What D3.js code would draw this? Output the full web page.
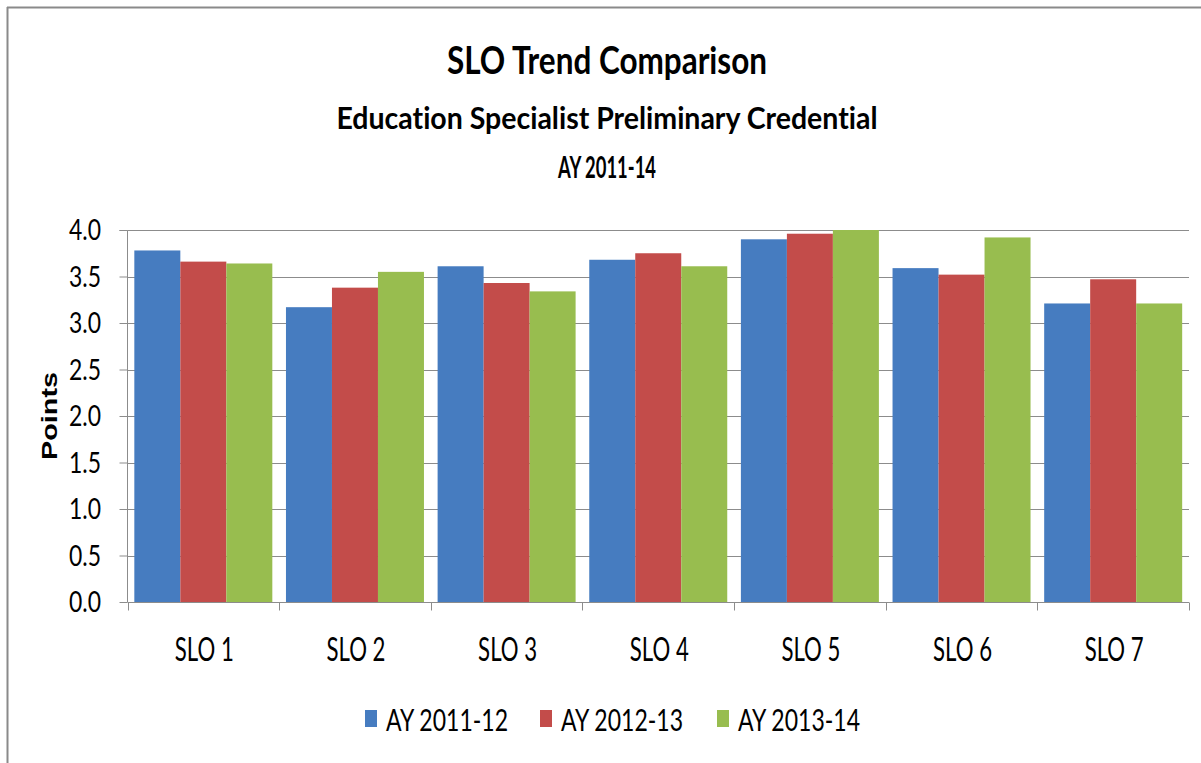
<!DOCTYPE html>
<html>
<head>
<meta charset="utf-8">
<script src="https://cdn.jsdelivr.net/npm/d3@7"></script>
<style>
  html, body { margin: 0; padding: 0; background: #ffffff; }
  svg { display: block; }
  text { font-variant-ligatures: none; font-feature-settings: "liga" 0; }
</style>
</head>
<body>
<svg id="chart" width="1201" height="763"></svg>
<script>
// ---- data ----
const categories = ["SLO 1", "SLO 2", "SLO 3", "SLO 4", "SLO 5", "SLO 6", "SLO 7"];
const seriesNames = ["AY 2011-12", "AY 2012-13", "AY 2013-14"];
const ay201112 = [3.78, 3.17, 3.61, 3.68, 3.90, 3.59, 3.21];
const ay201213 = [3.66, 3.38, 3.43, 3.75, 3.96, 3.52, 3.47];
const ay201314 = [3.64, 3.55, 3.34, 3.61, 4.00, 3.92, 3.21];
const yTicks = [0, 0.5, 1.0, 1.5, 2.0, 2.5, 3.0, 3.5, 4.0];
const seriesColors = ["#467cc0", "#c34c4a", "#98bd4f"];

const seriesValues = [ay201112, ay201213, ay201314];
const rows = categories.map((c, i) => ({
  cat: c,
  vals: seriesNames.map((s, j) => ({ s, v: seriesValues[j][i] }))
}));

// ---- layout ----
const svg = d3.select("#chart");
const W = 1201, H = 763;
const plot = { left: 127.5, right: 1189, top: 230, bottom: 602 };
const font = "Lato, 'Open Sans', 'Liberation Sans', sans-serif";

svg.append("rect").attr("width", W).attr("height", H).attr("fill", "#ffffff");

// outer chart border (top & left visible)
svg.append("line").attr("x1", 7).attr("x2", W).attr("y1", 7.5).attr("y2", 7.5)
  .attr("stroke", "#8a8a8a").attr("stroke-width", 2);
svg.append("line").attr("x1", 7.5).attr("x2", 7.5).attr("y1", 7).attr("y2", H)
  .attr("stroke", "#8a8a8a").attr("stroke-width", 2);

const x0 = d3.scaleBand().domain(categories)
  .range([plot.left, plot.right]).paddingInner(0.09).paddingOuter(0.045);
const x1 = d3.scaleBand().domain(seriesNames).range([0, x0.bandwidth()]).padding(0);
const y = d3.scaleLinear().domain([0, 4]).range([plot.bottom, plot.top]);
const color = d3.scaleOrdinal().domain(seriesNames).range(seriesColors);

// gridlines
svg.append("g").selectAll("line").data(yTicks.filter(t => t > 0)).join("line")
  .attr("x1", plot.left).attr("x2", plot.right)
  .attr("y1", d => Math.round(y(d)) + 0.5).attr("y2", d => Math.round(y(d)) + 0.5)
  .attr("stroke", "#8c8c8c").attr("stroke-width", 1);

// bars
const groups = svg.append("g").selectAll("g").data(rows).join("g")
  .attr("transform", d => `translate(${x0(d.cat)},0)`);
groups.selectAll("rect").data(d => d.vals).join("rect")
  .attr("x", d => x1(d.s))
  .attr("width", x1.bandwidth())
  .attr("y", d => y(d.v))
  .attr("height", d => y(0) - y(d.v))
  .attr("fill", d => color(d.s));

// y axis
const yAxis = d3.axisLeft(y).tickValues(yTicks).tickFormat(d3.format(".1f"))
  .tickSize(8).tickPadding(0);
const gy = svg.append("g").attr("transform", `translate(${plot.left},0)`).call(yAxis);
gy.select(".domain").attr("stroke", "#8c8c8c").attr("d", `M-8,${plot.top + 0.5}H0V${plot.bottom}`);
gy.selectAll(".tick line").attr("stroke", "#8c8c8c");
gy.selectAll(".tick text").remove();
svg.append("g").selectAll("text").data(yTicks).join("text")
  .attr("x", 101).attr("y", d => y(d) + 10)
  .attr("text-anchor", "end")
  .attr("font-family", font).attr("font-size", 28).attr("fill", "#000")
  .attr("textLength", 32).attr("lengthAdjust", "spacingAndGlyphs")
  .text(d => d3.format(".1f")(d));

// x axis
const gx = svg.append("g").attr("transform", `translate(0,${plot.bottom + 0.5})`);
gx.append("line").attr("x1", plot.left).attr("x2", plot.right).attr("y1", 0).attr("y2", 0)
  .attr("stroke", "#8c8c8c");
const step = x0.step();
const boundaries = d3.range(categories.length + 1).map(i => plot.left + i * step);
gx.selectAll("line.tk").data(boundaries).join("line").attr("class", "tk")
  .attr("x1", d => Math.round(d) + 0.5).attr("x2", d => Math.round(d) + 0.5)
  .attr("y1", 0).attr("y2", 8).attr("stroke", "#8c8c8c");
svg.append("g").selectAll("text").data(categories).join("text")
  .attr("x", d => x0(d) + x0.bandwidth() / 2 + 1)
  .attr("y", 661)
  .attr("text-anchor", "middle")
  .attr("font-family", font).attr("font-size", 32).attr("fill", "#000")
  .attr("textLength", 59).attr("lengthAdjust", "spacingAndGlyphs")
  .text(d => d);

// y axis title
svg.append("text")
  .attr("transform", "translate(57,416) rotate(-90)")
  .attr("text-anchor", "middle")
  .attr("font-family", "'Liberation Sans', Arial, sans-serif")
  .attr("font-weight", "bold").attr("font-size", 22).attr("fill", "#000")
  .attr("textLength", 88).attr("lengthAdjust", "spacingAndGlyphs")
  .text("Points");

// titles
const titles = [
  { t: "SLO Trend Comparison", y: 74, size: 38, w: 320 },
  { t: "Education Specialist Preliminary Credential", y: 129, size: 31, w: 541 },
  { t: "AY 2011-14", y: 178, size: 30, w: 98 }
];
svg.append("g").selectAll("text").data(titles).join("text")
  .attr("x", 607).attr("y", d => d.y)
  .attr("text-anchor", "middle")
  .attr("font-family", font).attr("font-weight", "bold")
  .attr("font-size", d => d.size).attr("fill", "#000")
  .attr("textLength", d => d.w).attr("lengthAdjust", "spacingAndGlyphs")
  .text(d => d.t);

// legend
const legendX = [365, 540, 717];
const lg = svg.append("g").selectAll("g").data(seriesNames).join("g")
  .attr("transform", (d, i) => `translate(${legendX[i]},0)`);
lg.append("rect").attr("x", 0).attr("y", 710).attr("width", 12).attr("height", 17)
  .attr("fill", d => color(d));
lg.append("text").attr("x", 21).attr("y", 731)
  .attr("font-family", font).attr("font-size", 31).attr("fill", "#000")
  .attr("textLength", 122).attr("lengthAdjust", "spacingAndGlyphs")
  .text(d => d);
</script>
</body>
</html>
